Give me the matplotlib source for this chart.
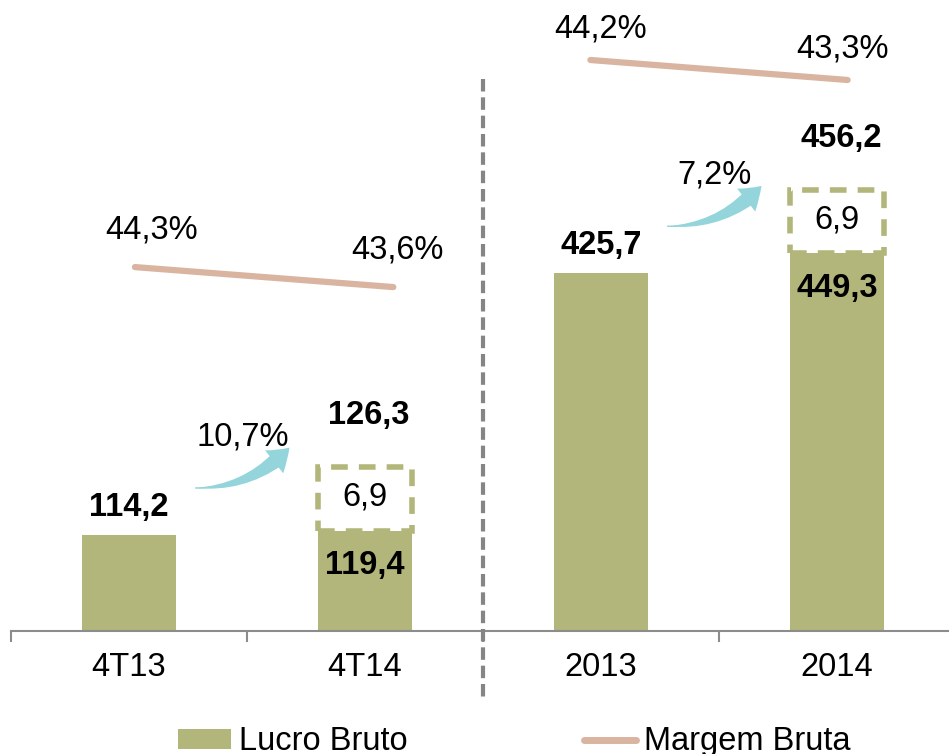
import matplotlib
matplotlib.use("Agg")
import matplotlib.pyplot as plt
from matplotlib.patches import FancyArrowPatch, Patch
from matplotlib.lines import Line2D

plt.rcParams['font.family'] = ['Liberation Sans', 'DejaVu Sans']

# data
categories = ["4T13", "4T14", "2013", "2014"]
lucro = [114.2, 119.4, 425.7, 449.3]
extra = [0, 6.9, 0, 6.9]             # ajuste (caixa tracejada)
lucro_total = [None, 126.3, None, 456.2]
margem_tri = [44.3, 43.6]            # 4T13, 4T14
margem_ano = [44.2, 43.3]            # 2013, 2014
crescimento = ["10,7%", "7,2%"]

def br(v, d=1):
    return f"{v:.{d}f}".replace(".", ",")

olive = "#B3B67A"
tan = "#D9B4A0"
cyan = "#93D5DA"
axis_gray = "#8C8C8C"
fs = 23.5

fig = plt.figure(figsize=(9.49, 7.54), dpi=100)
ax = fig.add_axes([11/949, 1 - 631/754, 944/949, 631/754])
x = list(range(len(categories)))
ax.set_xlim(-0.5, 3.5)
ax.set_ylim(0, 751)

ax.bar(x, lucro, width=0.4, color=olive, zorder=2)

# dashed boxes for the adjustment (not to scale, as in the original)
box_h = 76
for i, e in enumerate(extra):
    if e:
        ax.bar(i, box_h, bottom=lucro[i], width=0.4, fill=False,
               edgecolor=olive, linewidth=4, linestyle=(0, (3, 2)), zorder=3)
        ax.text(i, lucro[i] + box_h / 2 + 2, br(e), ha="center", va="center", fontsize=fs)
        ax.annotate(br(lucro[i]), (i, lucro[i]), xytext=(0, -25), textcoords="offset points",
                    ha="center", va="center", fontsize=fs, fontweight="bold")
        ax.annotate(br(lucro_total[i]), (i, lucro[i] + box_h), xytext=(3, 37),
                    textcoords="offset points", ha="center", va="center",
                    fontsize=fs, fontweight="bold")
    else:
        ax.annotate(br(lucro[i]), (i, lucro[i]), xytext=(0, 20), textcoords="offset points",
                    ha="center", va="center", fontsize=fs, fontweight="bold")

# growth arrows: tapered body + head
for k, i in enumerate([0, 2]):
    v = lucro[i]
    a = (i + 0.28, v + 56)
    b = (i + 0.68, v + 104)
    body = FancyArrowPatch(b, a, connectionstyle="arc3,rad=-0.22",
                           arrowstyle="wedge,tail_width=0.55,shrink_factor=0.5",
                           mutation_scale=20, shrinkA=12, shrinkB=0,
                           color=cyan, lw=0, zorder=4)
    head = FancyArrowPatch(a, b, connectionstyle="arc3,rad=0.22",
                           arrowstyle="simple,head_length=0.75,head_width=1.05,tail_width=0.05",
                           mutation_scale=20, shrinkA=0, shrinkB=0,
                           color=cyan, lw=0, zorder=4)
    ax.add_patch(body)
    ax.add_patch(head)
    ax.text(i + 0.48, v + 117, crescimento[k], ha="center", va="center", fontsize=fs)

# axis styling
for s in ["top", "right", "left"]:
    ax.spines[s].set_visible(False)
ax.spines["bottom"].set_color(axis_gray)
ax.spines["bottom"].set_linewidth(1.5)
ax.set_yticks([])
ax.set_xticks([-0.5, 0.5, 1.5, 2.5, 3.5])
ax.set_xticklabels([])
ax.tick_params(axis="x", which="major", length=8, width=1.5, color=axis_gray)
ax.set_xticks(x, minor=True)
ax.set_xticklabels(categories, minor=True, fontsize=fs)
ax.tick_params(axis="x", which="minor", length=0, pad=15)

# divider between quarter and year
ax.plot([1.5, 1.5], [657, -78], color="#858585", lw=3, ls=(0, (3, 1.4)),
        clip_on=False, zorder=5)

# margin lines (separate scales per group)
m1 = ax.twinx()
m1.set_ylim(31.56, 53.65)
m1.plot([0.025, 1.12], margem_tri, color=tan, lw=4.5, solid_capstyle="round")
m2 = ax.twinx()
m2.set_ylim(18.5, 46.9)
m2.plot([1.955, 3.045], margem_ano, color=tan, lw=4.5, solid_capstyle="round")
for m in (m1, m2):
    m.axis("off")
m1.annotate(br(margem_tri[0]) + "%", (0.025, margem_tri[0]), xytext=(12, 27),
            textcoords="offset points", ha="center", va="center", fontsize=fs)
m1.annotate(br(margem_tri[1]) + "%", (1.12, margem_tri[1]), xytext=(3, 27),
            textcoords="offset points", ha="center", va="center", fontsize=fs)
m2.annotate(br(margem_ano[0]) + "%", (1.955, margem_ano[0]), xytext=(7, 22),
            textcoords="offset points", ha="center", va="center", fontsize=fs)
m2.annotate(br(margem_ano[1]) + "%", (3.045, margem_ano[1]), xytext=(-4, 22),
            textcoords="offset points", ha="center", va="center", fontsize=fs)

handles = [Patch(facecolor=olive, edgecolor="none", label="Lucro Bruto"),
           Line2D([0], [0], color=tan, lw=5, solid_capstyle="round", label="Margem Bruta")]
fig.legend(handles=handles, loc="center", bbox_to_anchor=(0.542, 0.016), ncol=2,
           frameon=False, fontsize=fs, handlelength=1.6, handletextpad=0.25,
           columnspacing=5.4, handleheight=0.55)

fig.savefig("out.png", dpi=100)
